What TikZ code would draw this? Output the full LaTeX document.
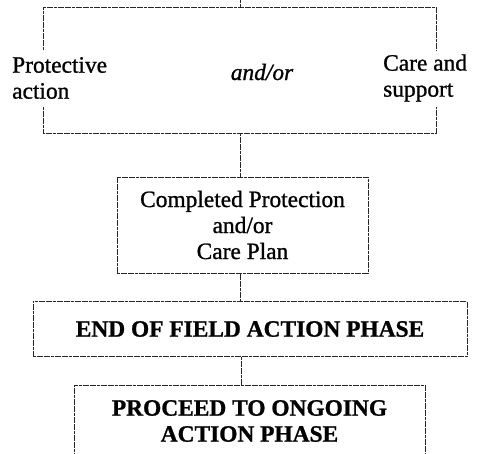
\documentclass[tikz,border=0pt]{standalone}
\usepackage{fontspec}
\setmainfont{Liberation Serif}
% slightly heavier strokes for all labels
\newfontfamily\inkfont{Liberation Serif}[FakeBold=1.0]
\begin{document}
\begin{tikzpicture}[x=1pt,y=-1pt,
  rule/.style={draw=black!85, line width=1pt, dash pattern=on 3pt off 0.6pt},
  txt/.style={font=\inkfont\fontsize{23.4}{26}\selectfont, inner sep=0pt},
  plainbox/.style={txt, rule, align=center},
  headbox/.style={plainbox, font=\inkfont\fontsize{23.4}{26}\selectfont\bfseries},
]
\path[use as bounding box] (0,0) rectangle (478,453);
\clip (0,0) rectangle (478,453);

% open bracket holding the two alternatives
\coordinate (top) at (240,0);
\coordinate (bt)  at (240,7);
\coordinate (btl) at (43,7);
\coordinate (btr) at (436,7);
\coordinate (bbl) at (43,133);
\coordinate (bbr) at (436,133);
\coordinate (bb)  at (240,133);
\coordinate (lgt) at (43,50);
\coordinate (lgb) at (43,107);
\coordinate (rgt) at (436,50);
\coordinate (rgb) at (436,107);

\node[txt, align=left, anchor=west] (prot) at (12,78) {Protective\\action};
\node[txt, align=left, anchor=west] (care) at (383,78) {Care and\\support};
\node[txt, font=\inkfont\fontsize{23.4}{26}\selectfont\itshape] (andor) at (262,72) {and/or};

\draw[rule] (top) -- (bt);
\draw[rule] (lgt) -- (btl) -- (btr) -- (rgt);
\draw[rule] (lgb) -- (bbl) -- (bbr) -- (rgb);

% plan box
\node[plainbox, minimum width=251pt, minimum height=96pt] (plan) at (242.5,225)
  {Completed Protection\\and/or\\Care Plan};

% end of phase banner
\node[headbox, minimum width=434pt, minimum height=55pt] (endph) at (250,329)
  {END OF FIELD ACTION PHASE};

% next phase box, running off the lower edge
\coordinate (pnw) at (74,385);
\coordinate (pne) at (425,385);
\coordinate (psw) at (74,470);
\coordinate (pse) at (425,470);
\coordinate (pn)  at (241,385);
\node[txt, align=center, font=\inkfont\fontsize{23.4}{26}\selectfont\bfseries] (proceed) at (249.5,421)
  {PROCEED TO ONGOING\\ACTION PHASE};
\draw[rule] (psw) -- (pnw) -- (pne) -- (pse);

% connectors
\draw[rule] (bb) -- (bb |- plan.north);
\draw[rule] (plan.south -| bb) -- (bb |- endph.north);
\draw[rule] (endph.south -| pn) -- (pn);
\end{tikzpicture}
\end{document}
